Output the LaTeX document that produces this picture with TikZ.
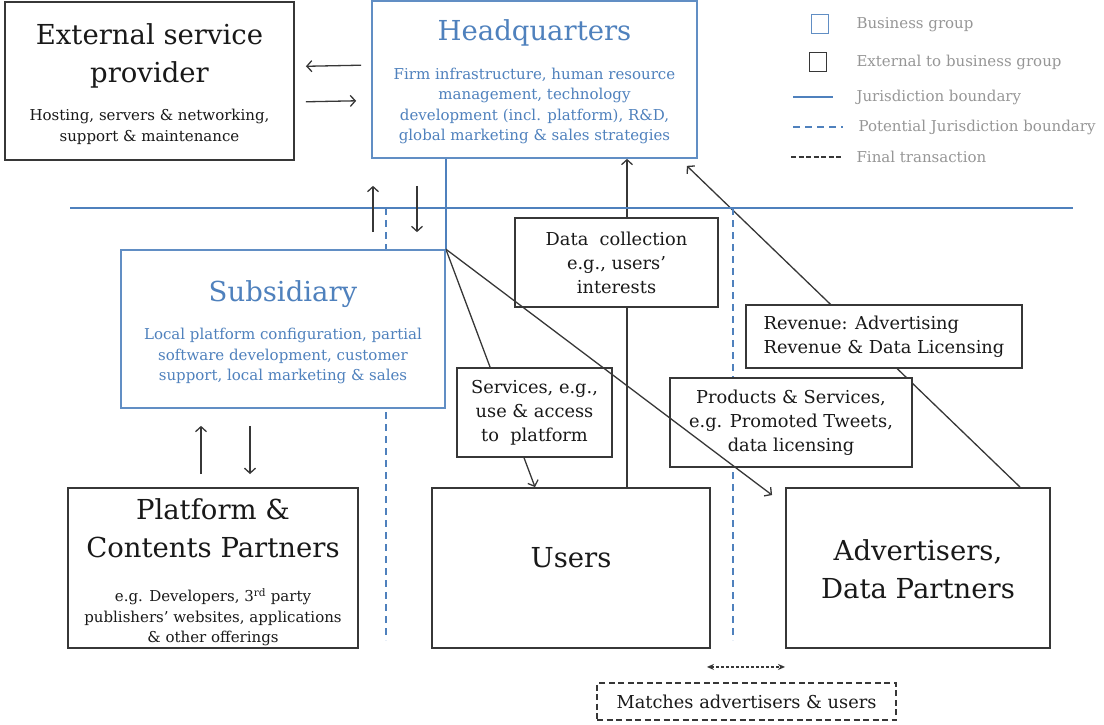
\documentclass[tikz,border=0pt]{standalone}
\usepackage{fontspec}
\setmainfont{DejaVu Serif}
\usetikzlibrary{arrows.meta,backgrounds}
\definecolor{groupblue}{RGB}{79,129,189}
\definecolor{linegray}{RGB}{55,55,55}
\definecolor{legendgray}{RGB}{150,150,150}

\begin{document}
\begin{tikzpicture}[x=1pt, y=-1pt, >={Straight Barb[length=5pt,width=11pt]},
    extbox/.style={draw=linegray, line width=1.9pt, fill=white, inner sep=0pt},
    grpbox/.style={draw=groupblue!90, line width=1.7pt, fill=white, inner sep=0pt},
    flowbox/.style={draw=linegray, line width=1.4pt, fill=white, align=center,
                    inner sep=0pt, text=black!90, font=\fontsize{17.8}{24}\selectfont},
    bigtext/.style={align=center, text=black!90, font=\fontsize{27.5}{38}\selectfont},
    smalltext/.style={align=center, text=black!90, font=\fontsize{15}{20.5}\selectfont},
    juris/.style={groupblue, line width=1.5pt},
    potjuris/.style={groupblue, line width=1.5pt, dash pattern=on 7pt off 5pt},
    flow/.style={linegray, line width=1.3pt},
    legendtext/.style={legendgray, anchor=west, font=\fontsize{15}{16}\selectfont}]

  \useasboundingbox (0,0) rectangle (1104,725);

  % jurisdiction lines
  \coordinate (jwest) at (70,208);
  \coordinate (jeast) at (1073,208);
  \coordinate (ptop) at (386,208);
  \coordinate (pbot) at (386,640);
  \coordinate (qtop) at (733,208);
  \coordinate (qbot) at (733,640);
  \draw[juris] (jwest) -- (jeast);
  \draw[potjuris] (ptop) -- (pbot);
  \draw[potjuris] (qtop) -- (qbot);

  % boxes
  \node[extbox, minimum width=289pt, minimum height=158pt] (esp) at (149.5,81) {};
  \node[grpbox, minimum width=325pt, minimum height=157pt] (hq) at (534.5,79.5) {};
  \node[grpbox, minimum width=324pt, minimum height=158pt] (sub) at (283,329) {};
  \node[extbox, minimum width=290pt, minimum height=160pt] (plat) at (213,568) {};
  \node[extbox, minimum width=278pt, minimum height=160pt] (users) at (571,568) {};
  \node[extbox, minimum width=264pt, minimum height=160pt] (adv) at (918,568) {};

  \node[bigtext] (esptitle) at (149.5,56) {External service\\provider};
  \node[smalltext] (espinfo) at (149.5,127) {Hosting, servers \& networking,\\support \& maintenance};
  \node[bigtext, text=groupblue] (hqtitle) at (534.5,33) {Headquarters};
  \node[smalltext, text=groupblue] (hqinfo) at (534.5,106) {Firm infrastructure, human resource\\management, technology\\development (incl. platform), R\&D,\\global marketing \& sales strategies};
  \node[bigtext, text=groupblue] (subtitle) at (283,294) {Subsidiary};
  \node[smalltext, text=groupblue] (subinfo) at (283,356) {Local platform configuration, partial\\software development, customer\\support, local marketing \& sales};
  \node[bigtext] (plattitle) at (213,528) {Platform \&\\Contents Partners};
  \node[smalltext] (platinfo) at (213,617.5) {e.g. Developers, 3\textsuperscript{rd} party\\publishers' websites, applications\\\& other offerings};
  \node[bigtext] (userstitle) at (571,558) {Users};
  \node[bigtext] (advtitle) at (918,569) {Advertisers,\\Data Partners};

  \node[flowbox, minimum width=203pt, minimum height=89pt] (data) at (616.5,262.5) {Data\ \ collection\\e.g., users'\\interests};
  \node[flowbox, minimum width=155pt, minimum height=89pt] (serv) at (534.5,412.5) {Services, e.g.,\\use \& access\\to\ \ platform};
  \node[flowbox, minimum width=242pt, minimum height=89pt] (prod) at (791,422.5) {Products \& Services,\\e.g. Promoted Tweets,\\data licensing};
  \node[flowbox, minimum width=276pt, minimum height=63pt, align=left] (rev) at (884,336.5) {Revenue: Advertising\\Revenue \& Data Licensing};

  % connectors
  \draw[juris] (sub.north east) -- (sub.north east |- hq.south);
  \draw[flow, ->, shorten <=10pt, shorten >=11pt] ([yshift=14.5pt]hq.west) -- ([yshift=14.5pt]esp.east);
  \draw[flow, ->, shorten <=11pt, shorten >=15pt] ([yshift=-21pt]esp.east) -- ([yshift=-21pt]hq.west);
  \draw[flow, ->, shorten <=17pt, shorten >=27pt] (373,0 |- sub.north) -- (373,0 |- hq.south);
  \draw[flow, ->, shorten <=27pt, shorten >=17pt] (417,0 |- hq.south) -- (417,0 |- sub.north);
  \draw[flow, ->, shorten <=13pt, shorten >=17pt] (201,0 |- plat.north) -- (201,0 |- sub.south);
  \draw[flow, ->, shorten <=17pt, shorten >=13pt] (250,0 |- sub.south) -- (250,0 |- plat.north);
  \begin{pgfonlayer}{background}
    \draw[flow, ->] (sub.north east) -- ([xshift=-36pt]users.north);
    \draw[flow, ->] ([xshift=56pt]users.north) -- ([xshift=56pt]users.north |- hq.south);
    \draw[flow, ->] ([xshift=102pt]adv.north) -- ([xshift=-11pt,yshift=-7pt]hq.south east);
  \end{pgfonlayer}
  \draw[flow, ->] (sub.north east) -- ([xshift=-13pt,yshift=-8pt]adv.north west);

  % final transaction
  \draw[flow, dash pattern=on 3pt off 2pt, {Stealth[length=7pt,width=6pt]}-{Stealth[length=7pt,width=6pt]}] ([xshift=-4pt,yshift=-18pt]users.south east) -- ([yshift=-18pt]adv.south west);
  \node[draw=linegray, dash pattern=on 6pt off 3.5pt, line width=1.5pt, minimum width=299pt, minimum height=37pt,
        text=black!90, font=\fontsize{17.8}{20}\selectfont] (match) at (746.5,701.5) {Matches advertisers \& users};

  % legend
  \node[grpbox, line width=1.8pt, minimum width=17pt, minimum height=19pt] (lgroup) at (820,24) {};
  \node[extbox, line width=1.8pt, minimum width=17pt, minimum height=19pt] (lext) at (818,62) {};
  \draw[juris] (793,97) -- (833,97);
  \draw[potjuris] (793,127) -- (843,127);
  \draw[linegray, line width=1.6pt, dash pattern=on 5pt off 2.5pt] (791,157) -- (843,157);
  \node[legendtext] (lgrouptext) at (853,25) {Business group};
  \node[legendtext] (lexttext) at (853,62) {External to business group};
  \node[legendtext] (ljtext) at (853,97) {Jurisdiction boundary};
  \node[legendtext] (lpjtext) at (855,127) {Potential Jurisdiction boundary};
  \node[legendtext] (lfttext) at (853,157) {Final transaction};
\end{tikzpicture}
\end{document}
